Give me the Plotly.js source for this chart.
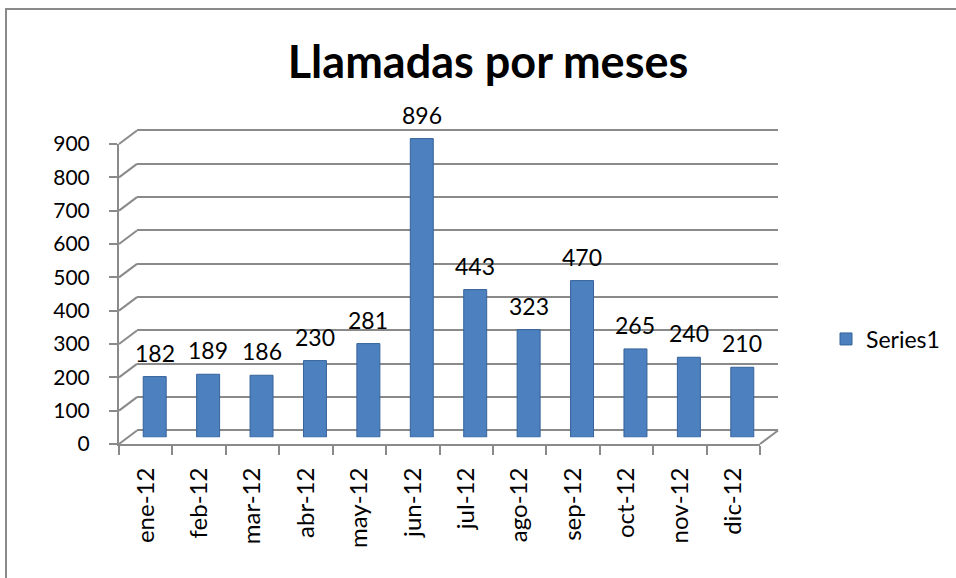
<!DOCTYPE html>
<html>
<head>
<meta charset="utf-8">
<script src="https://cdn.plot.ly/plotly-3.0.1.min.js"></script>
<style>html,body{margin:0;padding:0;background:#fff;}#chart{width:956px;height:578px;}</style>
</head>
<body>
<div id="chart"></div>
<script>
// ---- data ----
const months = ["ene-12","feb-12","mar-12","abr-12","may-12","jun-12","jul-12","ago-12","sep-12","oct-12","nov-12","dic-12"];
const calls = [182, 189, 186, 230, 281, 896, 443, 323, 470, 265, 240, 210];
const yTicks = [0, 100, 200, 300, 400, 500, 600, 700, 800, 900];
const seriesName = "Series1";
const chartTitle = "Llamadas por meses";

// ---- geometry (pixels) ----
const W = 956, H = 578;
const FONT = "Lato, 'Open Sans', sans-serif";
const GRAY = "#8a8a8a";
const yMax = 900;
const front = {x0: 119, x1: 760, yb: 444, yt: 144};
const depth = {dx: 18, dy: -13.5};
function plane(f) { // 0 = front, 0.5 = middle, 1 = back wall
  return {x0: front.x0 + depth.dx*f, x1: front.x1 + depth.dx*f,
          yb: front.yb + depth.dy*f, yt: front.yt + depth.dy*f};
}
const px = x => x / W;
const py = y => (H - y) / H;
const P0 = plane(0), P1 = plane(1), PM = plane(0.5);
const valToY = (p, v) => p.yb - (p.yb - p.yt) * v / yMax;
const PAD = 4; // value padding so edge gridlines are drawn
const domX = p => [px(p.x0), px(p.x1)];
const domY = p => [py(p.yb), py(p.yt)];
const domYPad = p => [py(valToY(p, -PAD)), py(valToY(p, yMax + PAD))];

const catRange = [-0.5, months.length - 0.5];

const bars = {
  type: "bar", x: months, y: calls, name: seriesName,
  xaxis: "x3", yaxis: "y3", width: 0.43,
  marker: {color: "#4D80BE", line: {color: "#36639A", width: 1}},
  hoverinfo: "x+y", showlegend: true
};

const shapes = [];
yTicks.forEach(v => {
  shapes.push({type: "line", xref: "paper", yref: "paper",
    x0: px(P0.x0), y0: py(valToY(P0, v)), x1: px(P1.x0), y1: py(valToY(P1, v)),
    line: {color: GRAY, width: 2}});
});
shapes.push({type: "line", xref: "paper", yref: "paper",
  x0: px(P0.x1), y0: py(P0.yb), x1: px(P1.x1), y1: py(P1.yb),
  line: {color: GRAY, width: 2}});
shapes.push({type: "rect", xref: "paper", yref: "paper",
  x0: px(6), y0: py(9), x1: 1.1, y1: -0.1,
  line: {color: GRAY, width: 2}, fillcolor: "rgba(0,0,0,0)"});

const annotations = months.map((m, i) => ({
  x: m, y: calls[i], xref: "x3", yref: "y3", text: String(calls[i]),
  showarrow: false, yanchor: "bottom", yshift: 8,
  font: {family: FONT, size: 23, color: "#000"}
}));

const layout = {
  width: W, height: H,
  margin: {l: 0, r: 0, t: 0, b: 0, pad: 0},
  paper_bgcolor: "#fff", plot_bgcolor: "rgba(0,0,0,0)",
  font: {family: FONT, color: "#000"},
  title: {text: chartTitle, font: {family: FONT, size: 45, weight: "bold", color: "#000"},
          x: px(488), xanchor: "center", xref: "paper",
          y: py(62), yref: "container", yanchor: "middle"},
  xaxis: {domain: domX(P0), anchor: "y", type: "category", range: catRange,
          showgrid: false, zeroline: false, showline: true, linecolor: GRAY, linewidth: 2,
          ticks: "outside", ticklen: 9, tickwidth: 2, tickcolor: GRAY, tickson: "boundaries",
          tickangle: -90, ticklabelstandoff: 12,
          tickfont: {family: FONT, size: 24, color: "#000"}, automargin: false, fixedrange: true},
  yaxis: {domain: domY(P0), anchor: "x", range: [0, yMax], tickvals: yTicks,
          showgrid: false, zeroline: false, showline: true, linecolor: GRAY, linewidth: 2,
          ticks: "outside", ticklen: 8, tickwidth: 2, tickcolor: GRAY, ticklabelstandoff: 15,
          tickfont: {family: FONT, size: 21, color: "#000"}, automargin: false, fixedrange: true},
  xaxis2: {domain: domX(P1), anchor: "y2", type: "category", range: catRange,
           showgrid: false, zeroline: false, showline: false, showticklabels: false, ticks: "", fixedrange: true},
  yaxis2: {domain: domYPad(P1), anchor: "x2", range: [-PAD, yMax + PAD], tickvals: yTicks,
           showgrid: true, gridcolor: GRAY, gridwidth: 2, zeroline: false, showline: false,
           showticklabels: false, ticks: "", fixedrange: true},
  xaxis3: {domain: domX(PM), anchor: "y3", type: "category", range: catRange,
           visible: false, fixedrange: true},
  yaxis3: {domain: domY(PM), anchor: "x3", range: [0, yMax],
           visible: false, fixedrange: true},
  showlegend: true,
  legend: {x: px(826), y: py(339), xanchor: "left", yanchor: "middle",
           font: {family: FONT, size: 23, color: "#000"}, bgcolor: "rgba(0,0,0,0)"},
  shapes: shapes,
  annotations: annotations,
  bargap: 0
};

// invisible traces that give the front and back axes their categories
const frontTrace = {type: "scatter", mode: "none", x: months, y: calls, xaxis: "x", yaxis: "y", showlegend: false, hoverinfo: "skip"};
const backTrace = {type: "scatter", mode: "none", x: months, y: calls, xaxis: "x2", yaxis: "y2", showlegend: false, hoverinfo: "skip"};

Plotly.newPlot("chart", [frontTrace, backTrace, bars], layout, {displayModeBar: false, staticPlot: true});
</script>
</body>
</html>
